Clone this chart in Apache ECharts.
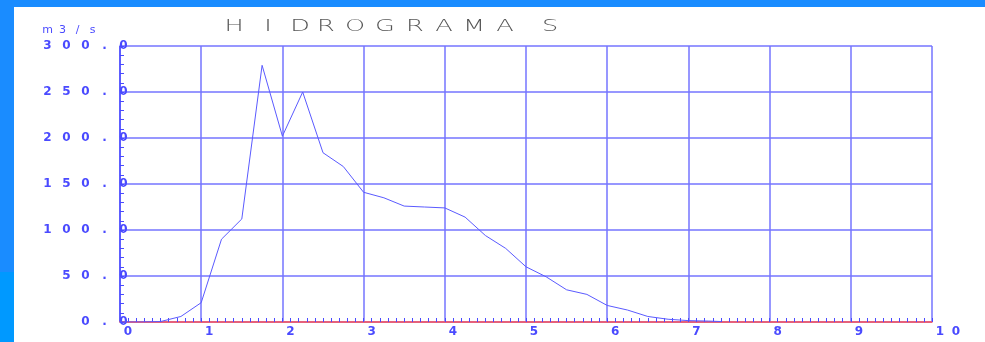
<!DOCTYPE html>
<html>
<head>
<meta charset="utf-8">
<style>
  html, body { margin: 0; padding: 0; background: #ffffff; }
  #chart { width: 985px; height: 342px; }
</style>
<script src="https://cdn.jsdelivr.net/npm/echarts@6/dist/echarts.min.js"></script>
</head>
<body>
<div id="chart"></div>
<script>
// Time (x) and discharge in m3/s (y) of the hydrograph
const times = [0, 0.25, 0.5, 0.75, 1, 1.25, 1.5, 1.75, 2, 2.25, 2.5, 2.75, 3, 3.25, 3.5, 3.75,
               4, 4.25, 4.5, 4.75, 5, 5.25, 5.5, 5.75, 6, 6.25, 6.5, 6.75, 7, 7.25, 7.4];
const flows = [0, 0, 0.5, 6, 21, 90, 112, 279, 202, 250, 184, 169, 141, 135, 126, 125,
               124, 114, 94, 80, 60, 49, 35, 30, 18, 13, 6, 3, 1.5, 1, 0.5];

const titleText = 'HIDROGRAMAS';
const unitText = 'm3/s';
const xTickLabels = ['0', '1', '2', '3', '4', '5', '6', '7', '8', '9', '10'];
const yTickLabels = ['0.0', '50.0', '100.0', '150.0', '200.0', '250.0', '300.0'];

const blue = '#4a4aff';
const gridBlue = '#7474ff';

// spread every character in its own fixed-width box
function spaced(str, style) {
  return str.split('').map(ch => '{' + style + '|' + ch + '}').join('');
}

// wide, thin title lettering: letters in boxes, stretched horizontally
const titleStretch = 1.6;
const titleWidths = [28, 40, 24, 28, 30, 30, 30, 28, 32, 30, 60];
const titleRich = {};
titleWidths.forEach((w, i) => {
  titleRich['t' + i] = { width: w / titleStretch, align: 'center', fontFamily: 'DejaVu Sans',
                         fontWeight: 200, fontSize: 16, fill: '#555555' };
});
const titleFormatted = titleText.split('').map((ch, i) => '{t' + i + '|' + ch + '}').join('');

const chart = echarts.init(document.getElementById('chart'), null, { renderer: 'canvas' });

chart.setOption({
  backgroundColor: '#ffffff',
  animation: false,
  graphic: [
    { type: 'rect', left: 0, top: 0, shape: { width: 985, height: 7 }, style: { fill: '#1a8cff' }, silent: true },
    { type: 'rect', left: 0, top: 0, shape: { width: 14, height: 272 }, style: { fill: '#1a8cff' }, silent: true },
    { type: 'rect', left: 0, top: 272, shape: { width: 14, height: 70 }, style: { fill: '#0099ff' }, silent: true },
    {
      type: 'text', x: 220, y: 19, scaleX: titleStretch, scaleY: 1, silent: true,
      style: { text: titleFormatted, rich: titleRich, fill: '#555555', fontSize: 16 }
    }
  ],
  grid: { left: 120, right: 53, top: 46, bottom: 20, containLabel: false },
  xAxis: {
    type: 'value',
    min: 0,
    max: 10,
    interval: 1,
    axisLine: { show: true, onZero: false, lineStyle: { color: '#ff5050', width: 1.5 } },
    axisTick: { show: true, inside: true, length: 4, lineStyle: { color: blue, width: 1 } },
    minorTick: { show: true, splitNumber: 10, length: 4, lineStyle: { color: blue, width: 1 } },
    splitLine: { show: true, lineStyle: { color: gridBlue, width: 1.5 } },
    axisLabel: {
      margin: 4,
      align: 'left',
      formatter: (v) => spaced(xTickLabels[Math.round(v)] || '', 'c'),
      rich: { c: { width: 16, align: 'center', fontFamily: 'DejaVu Sans', fontWeight: 'bold',
                   fontSize: 12, color: blue } }
    }
  },
  yAxis: {
    type: 'value',
    min: 0,
    max: 300,
    interval: 50,
    name: spaced(unitText, 'u'),
    nameLocation: 'end',
    nameGap: 10,
    nameTextStyle: {
      align: 'right',
      padding: [0, 20, 0, 0],
      rich: { u: { width: 15, align: 'center', fontFamily: 'DejaVu Sans', fontSize: 11, color: blue } }
    },
    axisLine: { show: true, lineStyle: { color: blue, width: 1.5 } },
    axisTick: { show: true, inside: true, length: 4, lineStyle: { color: blue, width: 1 } },
    minorTick: { show: true, splitNumber: 5, length: 4, lineStyle: { color: blue, width: 1 } },
    splitLine: { show: true, lineStyle: { color: gridBlue, width: 1.5 } },
    axisLabel: {
      margin: -13,
      align: 'right',
      formatter: (v) => spaced(yTickLabels[Math.round(v / 50)] || '', 'c'),
      rich: { c: { width: 19, align: 'center', fontFamily: 'DejaVu Sans', fontWeight: 'bold',
                   fontSize: 12, color: blue } }
    }
  },
  series: [{
    type: 'line',
    data: times.map((t, i) => [t, flows[i]]),
    showSymbol: false,
    lineStyle: { color: '#5a5aff', width: 1 },
    z: 3
  }]
});
</script>
</body>
</html>
